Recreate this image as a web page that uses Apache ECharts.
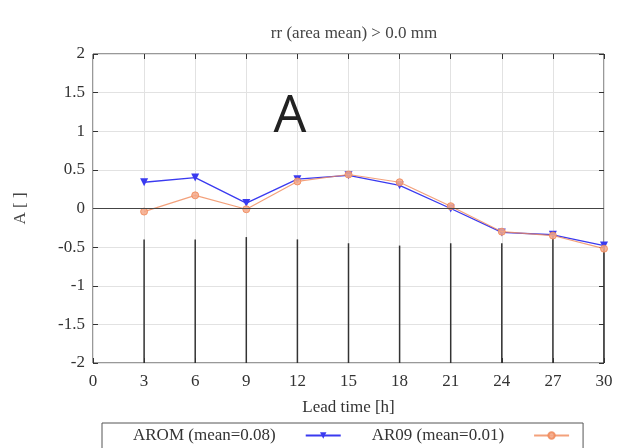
<!DOCTYPE html>
<html>
<head>
<meta charset="utf-8">
<script src="https://cdn.jsdelivr.net/npm/echarts@6/dist/echarts.min.js"></script>
<style>html,body{margin:0;padding:0;background:#fff;}#c{width:619px;height:448px;}</style>
</head>
<body>
<div id="c"></div>
<script>
var leadTimes = [3, 6, 9, 12, 15, 18, 21, 24, 27, 30];
var arom = [0.34, 0.40, 0.07, 0.38, 0.43, 0.30, 0.00, -0.31, -0.34, -0.48];
var ar09 = [-0.04, 0.17, -0.01, 0.35, 0.44, 0.34, 0.03, -0.30, -0.35, -0.52];
var spikeTops = [-0.40, -0.40, -0.37, -0.40, -0.45, -0.48, -0.45, -0.45, -0.38, -0.45];
var spikeBase = -2;
var legendNames = ['AROM (mean=0.08)', 'AR09 (mean=0.01)'];

var serif = '"Liberation Serif", "DejaVu Serif", serif';
var chart = echarts.init(document.getElementById('c'));
function pairs(xs, ys){ return xs.map(function(x,i){ return [x, ys[i]]; }); }

chart.setOption({
  animation: false,
  backgroundColor: '#fff',
  title: [{
    text: 'rr (area mean) > 0.0 mm',
    left: 349, top: 20, textAlign: 'center',
    textStyle: {fontFamily: serif, fontSize: 17, fontWeight: 'normal', color: '#444'}
  }, {
    text: 'A',
    left: 285, top: 86, textAlign: 'center',
    textStyle: {fontFamily: '"Open Sans", "Noto Sans", sans-serif', fontSize: 52, fontWeight: 'normal', color: '#222'}
  }],
  grid: {left: 93, right: 15, top: 54, bottom: 85, show: true, borderColor: '#333', borderWidth: 1},
  legend: {
    top: 423, left: 102, width: 488,
    data: legendNames,
    align: 'right', itemGap: 30, itemWidth: 35, itemHeight: 8,
    borderColor: '#555', borderWidth: 1, borderRadius: 0, padding: [4, 13, 6, 31],
    textStyle: {fontFamily: serif, fontSize: 17, color: '#333', padding: [0, 25, 0, 0]}
  },
  xAxis: [{
    type: 'value', min: 0, max: 30, interval: 3,
    name: 'Lead time [h]', nameLocation: 'middle', nameGap: 36,
    nameTextStyle: {fontFamily: serif, fontSize: 17, color: '#333'},
    axisLine: {show: false, onZero: false},
    axisTick: {show: true, inside: true, length: 5, lineStyle: {color: '#333'}},
    axisLabel: {fontFamily: serif, fontSize: 17, color: '#333', margin: 10},
    splitLine: {show: true, lineStyle: {color: '#e2e2e2', width: 1}}
  }, {
    type: 'value', min: 0, max: 30, interval: 3, position: 'top',
    axisLine: {show: false, onZero: false},
    axisTick: {show: true, inside: true, length: 5, lineStyle: {color: '#333'}},
    axisLabel: {show: false}, splitLine: {show: false}
  }],
  yAxis: [{
    type: 'value', min: -2, max: 2, interval: 0.5,
    name: 'A [ ]', nameLocation: 'middle', nameGap: 64, nameRotate: 90,
    nameTextStyle: {fontFamily: serif, fontSize: 17, color: '#444'},
    axisLine: {show: false, onZero: false},
    axisTick: {show: true, inside: true, length: 5, lineStyle: {color: '#333'}},
    axisLabel: {fontFamily: serif, fontSize: 17, color: '#333', margin: 8},
    splitLine: {show: true, lineStyle: {color: '#e2e2e2', width: 1}}
  }, {
    type: 'value', min: -2, max: 2, interval: 0.5, position: 'right',
    axisLine: {show: false, onZero: false},
    axisTick: {show: true, inside: true, length: 5, lineStyle: {color: '#333'}},
    axisLabel: {show: false}, splitLine: {show: false}
  }],
  series: [{
    type: 'custom', name: 'spikes', silent: true, z: 1,
    data: pairs(leadTimes, spikeTops),
    renderItem: function(params, api){
      var p0 = api.coord([api.value(0), spikeBase]);
      var p1 = api.coord([api.value(0), api.value(1)]);
      return {type: 'line', shape: {x1: p0[0], y1: p0[1], x2: p1[0], y2: p1[1]},
              style: {stroke: '#333', lineWidth: 1.5}};
    },
    markLine: {
      silent: true, symbol: 'none', label: {show: false},
      lineStyle: {color: '#444', width: 1, type: 'solid'},
      data: [{yAxis: 0}]
    }
  }, {
    type: 'line', name: legendNames[0], z: 3,
    data: pairs(leadTimes, arom),
    symbol: 'triangle', symbolRotate: 180, symbolSize: 8, showAllSymbol: true,
    lineStyle: {color: '#3a3af0', width: 1.3},
    itemStyle: {color: '#3a3af0'}
  }, {
    type: 'line', name: legendNames[1], z: 4,
    data: pairs(leadTimes, ar09),
    symbol: 'circle', symbolSize: 7, showAllSymbol: true,
    lineStyle: {color: '#f08a5a', width: 1.2, opacity: 0.8},
    itemStyle: {color: '#f5a98a', borderColor: '#f08a5a', borderWidth: 1, opacity: 0.85}
  }]
});
</script>
</body>
</html>
